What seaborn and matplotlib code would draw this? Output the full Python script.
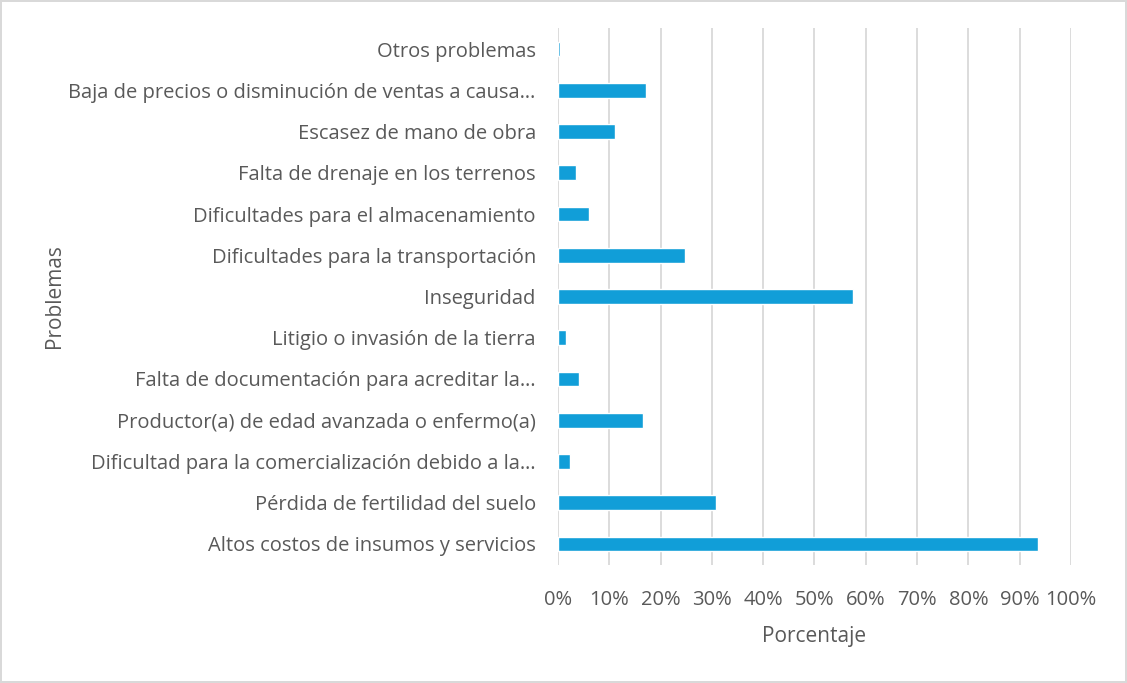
import matplotlib
matplotlib.use("Agg")
import matplotlib.pyplot as plt
import seaborn as sns
import pandas as pd
from matplotlib.ticker import FuncFormatter, MultipleLocator

categories = [
    "Otros problemas",
    "Baja de precios o disminución de ventas a causa…",
    "Escasez de mano de obra",
    "Falta de drenaje en los terrenos",
    "Dificultades para el almacenamiento",
    "Dificultades para la transportación",
    "Inseguridad",
    "Litigio o invasión de la tierra",
    "Falta de documentación para acreditar la…",
    "Productor(a) de edad avanzada o enfermo(a)",
    "Dificultad para la comercialización debido a la…",
    "Pérdida de fertilidad del suelo",
    "Altos costos de insumos y servicios",
]
values = [0.45, 17.1, 11.1, 3.6, 6.1, 24.7, 57.6, 1.5, 4.1, 16.6, 2.3, 30.9, 93.5]

df = pd.DataFrame({"Problemas": categories, "Porcentaje": values})

sns.set_theme(style="white")
plt.rcParams["font.family"] = ["Open Sans", "DejaVu Sans"]

text_color = "#595959"
grid_color = "#D9D9D9"
bar_color = "#119ED8"

fig = plt.figure(figsize=(11.27, 6.83), dpi=100, edgecolor=grid_color, linewidth=1.5)
ax = fig.add_axes([0.4951, 0.1734, 0.4552, 0.785])

sns.barplot(data=df, x="Porcentaje", y="Problemas", orient="h", color=bar_color,
            width=0.36, ax=ax, saturation=1, order=categories)

ax.set_xlim(0, 100)
ax.xaxis.set_major_locator(MultipleLocator(10))
ax.xaxis.set_major_formatter(FuncFormatter(lambda v, p: f"{int(round(v))}%"))
ax.grid(axis="x", color=grid_color, linewidth=1.3)
ax.set_axisbelow(True)
for s in ax.spines.values():
    s.set_visible(False)
ax.tick_params(axis="both", length=0, colors=text_color, labelsize=14.5)
ax.tick_params(axis="y", pad=16)
ax.tick_params(axis="x", pad=18)
ax.set_xlabel("Porcentaje", fontsize=15, color=text_color, labelpad=12)
ax.set_ylabel("Problemas", fontsize=15, color=text_color)
ax.yaxis.set_label_coords(-0.96, 0.5)

fig.savefig("out.png", dpi=100, edgecolor=fig.get_edgecolor())
